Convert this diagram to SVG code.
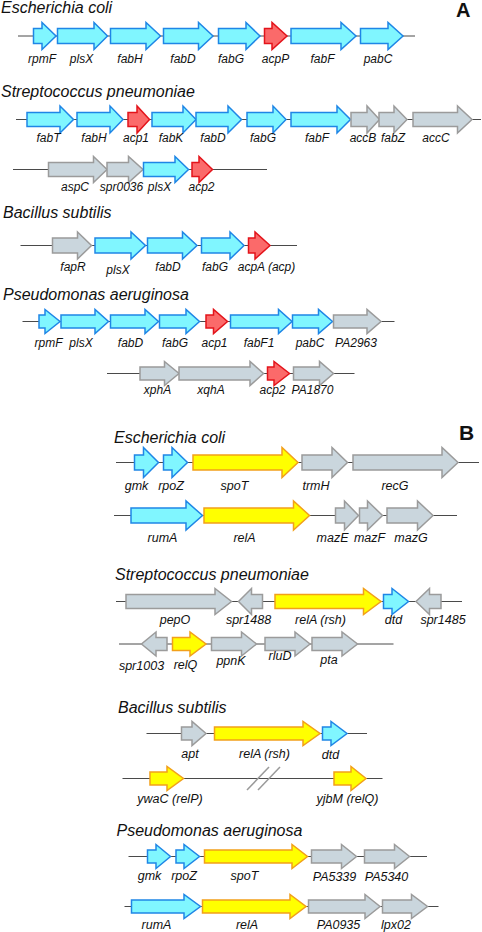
<svg xmlns="http://www.w3.org/2000/svg" width="482" height="932" viewBox="0 0 482 932">
<style>
.ln{stroke:#4a4a4a;stroke-width:1;fill:none}
.brk{stroke:#9a9a9a;stroke-width:1.5;fill:none}
path{stroke-width:1.5;stroke-linejoin:miter}
.b{fill:#80f6ff;stroke:#1f86e6}
.r{fill:#fb6a6a;stroke:#e3141b}
.g{fill:#cad6dd;stroke:#9b9b9b}
.y{fill:#ffff00;stroke:#f2a01a}
text{font-family:"Liberation Sans",Arial,sans-serif;fill:#111}
.lb{font-style:italic;font-size:12px;text-anchor:middle}
.lb2{font-style:italic;font-size:12.5px;text-anchor:middle}
.tt{font-style:italic;font-size:16px}
.pl{font-weight:bold;font-size:20px}
</style>
<rect width="482" height="932" fill="#ffffff"/>
<g id="backbones">
<line class="ln" x1="18" y1="36" x2="415" y2="36"/>
<line class="ln" x1="16" y1="119.5" x2="481" y2="119.5"/>
<line class="ln" x1="13" y1="169.5" x2="267" y2="169.5"/>
<line class="ln" x1="20.5" y1="245.5" x2="297" y2="245.5"/>
<line class="ln" x1="22.5" y1="321.5" x2="394.5" y2="321.5"/>
<line class="ln" x1="107" y1="373.5" x2="354.5" y2="373.5"/>
<line class="ln" x1="116" y1="462.5" x2="479" y2="462.5"/>
<line class="ln" x1="114" y1="515.5" x2="457" y2="515.5"/>
<line class="ln" x1="116" y1="601.5" x2="462" y2="601.5"/>
<line class="ln" x1="119" y1="644" x2="393.5" y2="644"/>
<line class="ln" x1="146.5" y1="733.5" x2="367" y2="733.5"/>
<line class="ln" x1="122.5" y1="778.5" x2="382.5" y2="778.5"/>
<line class="brk" x1="247" y1="790" x2="269" y2="767"/>
<line class="brk" x1="258" y1="790" x2="280" y2="767"/>
<line class="ln" x1="128.5" y1="856.5" x2="427" y2="856.5"/>
<line class="ln" x1="124.5" y1="906.5" x2="438.5" y2="906.5"/>
</g>
<text class="pl" x="456" y="17">A</text>
<text class="pl" x="459" y="440" style="font-size:21px">B</text>
<g id="panelA">
<text class="tt" x="1" y="12.5">Escherichia coli</text>
<g id="A1-rpmF"><path class="b" d="M33.5,28.5H42V22.5L56,36L42,49.5V43.5H33.5Z"/><text class="lb" x="42" y="63">rpmF</text></g>
<g id="A1-plsX"><path class="b" d="M57.5,28.5H94V22.5L107.5,36L94,49.5V43.5H57.5Z"/><text class="lb" x="81.5" y="63">plsX</text></g>
<g id="A1-fabH"><path class="b" d="M110.5,28.5H146V22.5L160.5,36L146,49.5V43.5H110.5Z"/><text class="lb" x="130" y="63">fabH</text></g>
<g id="A1-fabD"><path class="b" d="M163.5,28.5H198.5V22.5L213,36L198.5,49.5V43.5H163.5Z"/><text class="lb" x="183" y="63">fabD</text></g>
<g id="A1-fabG"><path class="b" d="M218.5,28.5H246V22.5L260,36L246,49.5V43.5H218.5Z"/><text class="lb" x="231" y="63">fabG</text></g>
<g id="A1-acpP"><path class="r" d="M264.5,28.5H272V22.5L287,36L272,49.5V43.5H264.5Z"/><text class="lb" x="275.5" y="63">acpP</text></g>
<g id="A1-fabF"><path class="b" d="M291,28.5H341V22.5L356,36L341,49.5V43.5H291Z"/><text class="lb" x="322.5" y="63">fabF</text></g>
<g id="A1-pabC"><path class="b" d="M360.5,28.5H388V22.5L403,36L388,49.5V43.5H360.5Z"/><text class="lb" x="378" y="63">pabC</text></g>

<text class="tt" x="1" y="96.5">Streptococcus pneumoniae</text>
<g id="A2-fabT"><path class="b" d="M27,112.5H60V106L73.5,119.5L60,133V126.5H27Z"/><text class="lb" x="48.5" y="142">fabT</text></g>
<g id="A2-fabH"><path class="b" d="M77,112.5H110V106L123,119.5L110,133V126.5H77Z"/><text class="lb" x="94" y="142">fabH</text></g>
<g id="A2-acp1"><path class="r" d="M128,112.5H137V106L149.5,119.5L137,133V126.5H128Z"/><text class="lb" x="136" y="142">acp1</text></g>
<g id="A2-fabK"><path class="b" d="M152,112.5H183V106L196,119.5L183,133V126.5H152Z"/><text class="lb" x="171" y="142">fabK</text></g>
<g id="A2-fabD"><path class="b" d="M196,112.5H228V106L241.5,119.5L228,133V126.5H196Z"/><text class="lb" x="213" y="142">fabD</text></g>
<g id="A2-fabG"><path class="b" d="M247,112.5H273V106L286,119.5L273,133V126.5H247Z"/><text class="lb" x="263" y="142">fabG</text></g>
<g id="A2-fabF"><path class="b" d="M291,112.5H337V106L350.5,119.5L337,133V126.5H291Z"/><text class="lb" x="317" y="142">fabF</text></g>
<g id="A2-accB"><path class="g" d="M351,112.5H367V106L379.5,119.5L367,133V126.5H351Z"/><text class="lb" x="363" y="142">accB</text></g>
<g id="A2-fabZ"><path class="g" d="M379,112.5H394V106L407,119.5L394,133V126.5H379Z"/><text class="lb" x="393" y="142">fabZ</text></g>
<g id="A2-accC"><path class="g" d="M413,112.5H457.5V106L472,119.5L457.5,133V126.5H413Z"/><text class="lb" x="436" y="142">accC</text></g>

<g id="A2b-aspC"><path class="g" d="M48.5,162.5H93.5V156.5L107,169.5L93.5,182.5V176.5H48.5Z"/><text class="lb" x="75" y="190.5">aspC</text></g>
<g id="A2b-spr0036"><path class="g" d="M107,162.5H128.5V156.5L143,169.5L128.5,182.5V176.5H107Z"/><text class="lb" x="121.5" y="190.5">spr0036</text></g>
<g id="A2b-plsX"><path class="b" d="M143.5,162.5H175V156.5L188.5,169.5L175,182.5V176.5H143.5Z"/><text class="lb" x="159.5" y="190.5">plsX</text></g>
<g id="A2b-acp2"><path class="r" d="M192,162.5H199V156.5L212.5,169.5L199,182.5V176.5H192Z"/><text class="lb" x="201.5" y="190.5">acp2</text></g>

<text class="tt" x="3" y="218">Bacillus subtilis</text>
<g id="A3-fapR"><path class="g" d="M52.5,238H77.5V232L91.5,245.5L77.5,259V253H52.5Z"/><text class="lb" x="73" y="271">fapR</text></g>
<g id="A3-plsX"><path class="b" d="M95,238H131V232L145.5,245.5L131,259V253H95Z"/><text class="lb" x="118" y="273.5">plsX</text></g>
<g id="A3-fabD"><path class="b" d="M147.5,238H182.5V232L197,245.5L182.5,259V253H147.5Z"/><text class="lb" x="168" y="270.5">fabD</text></g>
<g id="A3-fabG"><path class="b" d="M201.5,238H230V232L244,245.5L230,259V253H201.5Z"/><text class="lb" x="215" y="271">fabG</text></g>
<g id="A3-acpA"><path class="r" d="M248.5,238H255V232L270,245.5L255,259V253H248.5Z"/><text class="lb" x="266.5" y="271">acpA (acp)</text></g>

<text class="tt" x="3" y="300">Pseudomonas aeruginosa</text>
<g id="A4-rpmF"><path class="b" d="M39,315H45V309.5L60,321.5L45,333.5V328H39Z"/><text class="lb" x="48.5" y="347">rpmF</text></g>
<g id="A4-plsX"><path class="b" d="M61,315H95V309.5L108.5,321.5L95,333.5V328H61Z"/><text class="lb" x="81" y="347">plsX</text></g>
<g id="A4-fabD"><path class="b" d="M110.5,315H145V309.5L158.5,321.5L145,333.5V328H110.5Z"/><text class="lb" x="130.5" y="347">fabD</text></g>
<g id="A4-fabG"><path class="b" d="M159.5,315H186V309.5L199.5,321.5L186,333.5V328H159.5Z"/><text class="lb" x="175" y="347">fabG</text></g>
<g id="A4-acp1"><path class="r" d="M206,315H213.5V309.5L227.5,321.5L213.5,333.5V328H206Z"/><text class="lb" x="214.5" y="347">acp1</text></g>
<g id="A4-fabF1"><path class="b" d="M230.5,315H278.5V309.5L292,321.5L278.5,333.5V328H230.5Z"/><text class="lb" x="259" y="347">fabF1</text></g>
<g id="A4-pabC"><path class="b" d="M292.5,315H318.5V309.5L332.5,321.5L318.5,333.5V328H292.5Z"/><text class="lb" x="310" y="347">pabC</text></g>
<g id="A4-PA2963"><path class="g" d="M333.5,315H367V309.5L381,321.5L367,333.5V328H333.5Z"/><text class="lb" x="356" y="347">PA2963</text></g>

<g id="A4b-xphA"><path class="g" d="M140,367H164.5V361.5L179,373.5L164.5,385.5V380H140Z"/><text class="lb" x="157.5" y="394">xphA</text></g>
<g id="A4b-xqhA"><path class="g" d="M179,367H250V361.5L263.5,373.5L250,385.5V380H179Z"/><text class="lb" x="211" y="394">xqhA</text></g>
<g id="A4b-acp2"><path class="r" d="M267.5,367H274V361.5L289.5,373.5L274,385.5V380H267.5Z"/><text class="lb" x="272.5" y="394">acp2</text></g>
<g id="A4b-PA1870"><path class="g" d="M293.5,367H319.5V361.5L333.5,373.5L319.5,385.5V380H293.5Z"/><text class="lb" x="312.5" y="394">PA1870</text></g>
</g>

<g id="panelB">
<text class="tt" x="114" y="443">Escherichia coli</text>
<g id="B1-gmk"><path class="b" d="M134.5,455H143.5V447.5L158.5,462.5L143.5,477.5V470H134.5Z"/><text class="lb2" x="136.5" y="490">gmk</text></g>
<g id="B1-rpoZ"><path class="b" d="M163.5,455H172V447.5L187.5,462.5L172,477.5V470H163.5Z"/><text class="lb2" x="171" y="490">rpoZ</text></g>
<g id="B1-spoT"><path class="y" d="M193,455H282V447.5L298,462.5L282,477.5V470H193Z"/><text class="lb2" x="234.5" y="490">spoT</text></g>
<g id="B1-trmH"><path class="g" d="M302,455H332V447.5L347.5,462.5L332,477.5V470H302Z"/><text class="lb2" x="316" y="490">trmH</text></g>
<g id="B1-recG"><path class="g" d="M353,455H442V447.5L458,462.5L442,477.5V470H353Z"/><text class="lb2" x="395" y="490">recG</text></g>

<g id="B2-rumA"><path class="b" d="M131,508H186V501L202.5,515.5L186,530V523H131Z"/><text class="lb2" x="162.5" y="541.5">rumA</text></g>
<g id="B2-relA"><path class="y" d="M204,508H293.5V501L309.5,515.5L293.5,530V523H204Z"/><text class="lb2" x="244.5" y="541.5">relA</text></g>
<g id="B2-mazE"><path class="g" d="M335.5,508H344.5V501L358.5,515.5L344.5,530V523H335.5Z"/><text class="lb2" x="332.5" y="541.5">mazE</text></g>
<g id="B2-mazF"><path class="g" d="M359.5,508H367.5V501L382.5,515.5L367.5,530V523H359.5Z"/><text class="lb2" x="369.5" y="541.5">mazF</text></g>
<g id="B2-mazG"><path class="g" d="M387,508H417.5V501L433,515.5L417.5,530V523H387Z"/><text class="lb2" x="411" y="541.5">mazG</text></g>

<text class="tt" x="115" y="579.5">Streptococcus pneumoniae</text>
<g id="B3-pepO"><path class="g" d="M126,594.5H215V588.5L231.5,601.5L215,614.5V608.5H126Z"/><text class="lb2" x="175" y="624">pepO</text></g>
<g id="B3-spr1488"><path class="g" d="M262.5,594.5H251.5V588.5L238.5,601.5L251.5,614.5V608.5H262.5Z"/><text class="lb2" x="248.5" y="624">spr1488</text></g>
<g id="B3-relA"><path class="y" d="M275,594.5H363.5V588.5L381,601.5L363.5,614.5V608.5H275Z"/><text class="lb2" x="320.5" y="624">relA (rsh)</text></g>
<g id="B3-dtd"><path class="b" d="M383.5,594.5H392V588.5L408.5,601.5L392,614.5V608.5H383.5Z"/><text class="lb2" x="393.5" y="624">dtd</text></g>
<g id="B3-spr1485"><path class="g" d="M441,594.5H429.5V588.5L416,601.5L429.5,614.5V608.5H441Z"/><text class="lb2" x="443" y="624">spr1485</text></g>

<g id="B4-spr1003"><path class="g" d="M167,637.5H156V632L141.5,644L156,656V650.5H167Z"/><text class="lb2" x="141.5" y="669.5">spr1003</text></g>
<g id="B4-relQ"><path class="y" d="M172.5,637.5H190V632L206,644L190,656V650.5H172.5Z"/><text class="lb2" x="185.5" y="669">relQ</text></g>
<g id="B4-ppnK"><path class="g" d="M211.5,637.5H241.5V632L256.5,644L241.5,656V650.5H211.5Z"/><text class="lb2" x="231" y="664.5">ppnK</text></g>
<g id="B4-rluD"><path class="g" d="M265,637.5H295V632L310,644L295,656V650.5H265Z"/><text class="lb2" x="280" y="659.5">rluD</text></g>
<g id="B4-pta"><path class="g" d="M312,637.5H342V632L357.5,644L342,656V650.5H312Z"/><text class="lb2" x="329" y="663.5">pta</text></g>

<text class="tt" x="118" y="713">Bacillus subtilis</text>
<g id="B5-apt"><path class="g" d="M181.5,727H192V721.5L206,733.5L192,745.5V740H181.5Z"/><text class="lb2" x="190" y="758">apt</text></g>
<g id="B5-relA"><path class="y" d="M214.5,727H303V721.5L320,733.5L303,745.5V740H214.5Z"/><text class="lb2" x="264.5" y="758">relA (rsh)</text></g>
<g id="B5-dtd"><path class="b" d="M322.5,727H331V721.5L347,733.5L331,745.5V740H322.5Z"/><text class="lb2" x="330.5" y="758.5">dtd</text></g>

<g id="B6-ywaC"><path class="y" d="M150,772H167V766.5L183.5,778.5L167,790.5V785H150Z"/><text class="lb2" x="170" y="803">ywaC (relP)</text></g>
<g id="B6-yjbM"><path class="y" d="M334,772H351V766.5L366,778.5L351,790.5V785H334Z"/><text class="lb2" x="347.5" y="803">yjbM (relQ)</text></g>

<text class="tt" x="116.5" y="836">Pseudomonas aeruginosa</text>
<g id="B7-gmk"><path class="b" d="M147.5,850H156V844.5L170.5,856.5L156,868.5V863H147.5Z"/><text class="lb2" x="149.5" y="880">gmk</text></g>
<g id="B7-rpoZ"><path class="b" d="M176,850H184V844.5L199.5,856.5L184,868.5V863H176Z"/><text class="lb2" x="184" y="880">rpoZ</text></g>
<g id="B7-spoT"><path class="y" d="M204.5,850H292V844.5L307.5,856.5L292,868.5V863H204.5Z"/><text class="lb2" x="244.5" y="880">spoT</text></g>
<g id="B7-PA5339"><path class="g" d="M311.5,850H341.5V844.5L356.5,856.5L341.5,868.5V863H311.5Z"/><text class="lb2" x="334.5" y="880.5">PA5339</text></g>
<g id="B7-PA5340"><path class="g" d="M364.5,850H394.5V844.5L409.5,856.5L394.5,868.5V863H364.5Z"/><text class="lb2" x="386.5" y="880.5">PA5340</text></g>

<g id="B8-rumA"><path class="b" d="M131.5,900H184V894.5L200.5,906.5L184,918.5V913H131.5Z"/><text class="lb2" x="156.5" y="929">rumA</text></g>
<g id="B8-relA"><path class="y" d="M202.5,900H290V894.5L306,906.5L290,918.5V913H202.5Z"/><text class="lb2" x="247" y="929">relA</text></g>
<g id="B8-PA0935"><path class="g" d="M308.5,900H365V894.5L380,906.5L365,918.5V913H308.5Z"/><text class="lb2" x="338.5" y="929">PA0935</text></g>
<g id="B8-lpx02"><path class="g" d="M382.5,900H411.5V894.5L427.5,906.5L411.5,918.5V913H382.5Z"/><text class="lb2" x="396" y="929">lpx02</text></g>
</g>
</svg>
